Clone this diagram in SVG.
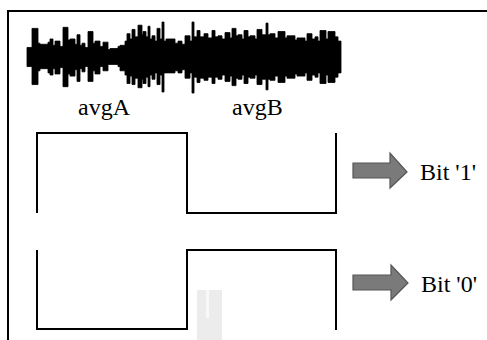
<svg xmlns="http://www.w3.org/2000/svg" width="487" height="340" viewBox="0 0 487 340">
<style>
.frame{fill:none;stroke:#000;stroke-width:2}
.wave{fill:none;stroke:#000;stroke-width:2;stroke-linejoin:miter}
.arrow{fill:#7a7a7a;stroke:#555;stroke-width:1.2}
.lbl{font-family:"Liberation Serif","Times New Roman",serif;font-size:24px;fill:#000}
</style>
<rect width="487" height="340" fill="#fff"/>
<g id="frame">
<path class="frame" d="M7,11 H487 M8,11 V340"/>
</g>
<g id="artifact">
<rect x="197" y="290" width="25" height="50" fill="#ececec"/>
<rect x="206" y="290" width="3" height="28" fill="#f8f8f8"/>
</g>
<g id="signal">
<path fill="#000" stroke="#000" stroke-width="0.8" stroke-linejoin="round" transform="translate(0,57) scale(1,1.06) translate(0,-57)" d="M27,48 H32 V30 H38 V44 H40 V45 H48 V43 H50 V40 H53 V46 H55 V42 H60 V47 H63 V29 H68 V41 H70 V40 H75 V45 H77 V36 H80 V46 H82 V44 H85 V48 H88 V33 H93 V44 H95 V42 H100 V47 H103 V43 H108 V50 H110 V49 H118 V47 H120 V46 H125 V42 H127 V35 H130 V40 H132 V31 H135 V38 H138 V27 H142 V36 H143 V33 H146 V38 H148 V28 H150 V40 H152 V37 H155 V42 H157 V30 H160 V40 H162 V24 H164 V42 H166 V40 H175 V44 H178 V42 H182 V45 H185 V37 H190 V42 H192 V24 H194 V38 H197 V32 H200 V38 H204 V35 H208 V39 H212 V32 H215 V38 H218 V37 H222 V40 H225 V34 H230 V39 H232 V30 H236 V37 H238 V36 H242 V40 H244 V32 H248 V38 H250 V37 H255 V40 H257 V31 H262 V36 H266 V25 H268 V36 H270 V35 H275 V39 H278 V33 H285 V39 H287 V37 H295 V41 H297 V39 H305 V42 H307 V35 H312 V40 H315 V38 H318 V42 H320 V32 H326 V40 H328 V33 H335 V38 H338 V42 H341 V72 H338 V76 H335 V81 H328 V74 H326 V82 H320 V72 H318 V76 H315 V74 H312 V79 H307 V72 H305 V75 H297 V73 H295 V77 H287 V75 H285 V81 H278 V75 H275 V79 H270 V78 H268 V88 H266 V78 H262 V83 H257 V74 H255 V77 H250 V76 H248 V82 H244 V74 H242 V78 H238 V77 H236 V84 H232 V75 H230 V80 H225 V74 H222 V78 H218 V76 H215 V82 H212 V76 H208 V79 H204 V77 H200 V81 H197 V76 H194 V91 H192 V72 H190 V77 H185 V69 H182 V72 H178 V70 H175 V72 H166 V72 H164 V90 H162 V74 H160 V83 H157 V72 H155 V78 H152 V74 H150 V85 H148 V76 H146 V82 H143 V78 H142 V86 H138 V77 H135 V83 H132 V75 H130 V82 H127 V74 H125 V70 H120 V66 H118 V64 H110 V64 H108 V70 H103 V66 H100 V73 H95 V70 H93 V80 H88 V66 H85 V71 H82 V68 H80 V80 H77 V69 H75 V75 H70 V73 H68 V85 H63 V67 H60 V73 H55 V68 H53 V74 H50 V72 H48 V68 H40 V70 H38 V83 H32 V66 H27 Z"/>
<text class="lbl" x="78" y="115">avgA</text>
<text class="lbl" x="232" y="115">avgB</text>
</g>
<g id="bit1">
<path class="wave" d="M37,213 V133 H187 V213 H336 V133"/>
<text class="lbl" x="420" y="180">Bit '1'</text>
</g>
<g id="bit0">
<path class="wave" d="M37,250 V329 H187 V250 H336 V330"/>
<text class="lbl" x="421" y="292">Bit '0'</text>
</g>
<g id="connectors">
<path class="arrow" d="M353,163 H390 V153 L407,172 L390,188 V178 H353 Z"/>
<path class="arrow" d="M353,275 H391 V265 L408,283 L391,300 V290 H353 Z"/>
</g>
</svg>
